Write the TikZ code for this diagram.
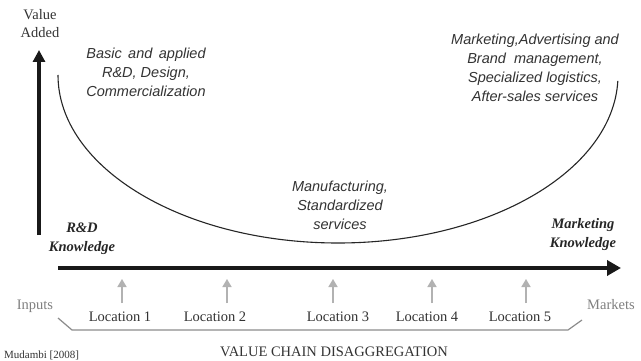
\documentclass[tikz,border=0pt]{standalone}
\usepackage{fontspec}
\setmainfont{Liberation Serif}
\newfontfamily\arialfont{Liberation Sans}
\usetikzlibrary{arrows.meta}
\begin{document}
\begin{tikzpicture}[x=1pt,y=-1pt,
  axis/.style={line width=4.5pt, draw=black!90},
  curvetext/.style={font=\arialfont\itshape\fontsize{14.5}{19}\selectfont, text=black!80, align=center, inner sep=0pt},
  knowtext/.style={font=\bfseries\itshape\fontsize{14.5}{19}\selectfont, text=black!85, align=center, inner sep=0pt},
  loc/.style={font=\fontsize{14.5}{17}\selectfont, text=black!80, inner sep=0pt},
  side/.style={font=\fontsize{14.5}{17}\selectfont, text=black!50, inner sep=0pt},
  uparrow/.style={draw=black!30, line width=1.6pt, -{Triangle[length=8pt,width=9pt]}},
  bracket/.style={draw=black!45, line width=1.2pt}
]
\useasboundingbox[fill=white] (0,0) rectangle (641,361);

% axes
\coordinate (vbot) at (39,235);
\coordinate (vtop) at (39,50);
\coordinate (hleft) at (58,268);
\coordinate (hright) at (621,268);
\draw[axis, -{Triangle[length=12pt,width=12pt]}] (vbot) -- (vtop);
\draw[axis, -{Triangle[length=14pt,width=15pt]}] (hleft) -- (hright);

% smile curve
\draw[line width=1.1pt, black!85] (58,75) arc[start angle=180, end angle=2, x radius=280, y radius=168];

% texts
\node[font=\fontsize{14.5}{18}\selectfont, text=black!80, align=center, inner sep=0pt] (va) at (40,24) {Value\\Added};
\node[curvetext] (basic) at (146,72) {Basic\, and\, applied\\R\&D, Design,\\Commercialization};
\node[curvetext] (mkt) at (535,68) {Marketing,Advertising and\\Brand\ \ management,\\Specialized logistics,\\After-sales services};
\node[curvetext] (manu) at (340,205) {Manufacturing,\\Standardized\\services};
\node[knowtext] (rdk) at (82,239) {R\&D\\Knowledge};
\node[knowtext] (mk) at (583,235) {Marketing\\Knowledge};

% locations
\foreach \i/\lx/\ax in {1/120/122, 2/215/227, 3/338/333, 4/427/432, 5/520/526}{
  \node[loc] (loc\i) at (\lx,317) {Location \i};
  \coordinate (ab\i) at (\ax,303);
  \coordinate (at\i) at (\ax,279);
  \draw[uparrow] (ab\i) -- (at\i);
}
\node[side] (inputs) at (35,306) {Inputs};
\node[side] (markets) at (611,305) {Markets};

% bracket
\coordinate (b1) at (58,318);
\coordinate (b2) at (72,330);
\coordinate (b3) at (568,330);
\coordinate (b4) at (582,320);
\draw[bracket] (b1) -- (b2) -- (b3) -- (b4);

\node[font=\fontsize{14.5}{17}\selectfont, text=black!80, inner sep=0pt] (vcd) at (334,352) {VALUE CHAIN\ DISAGGREGATION};
\node[font=\fontsize{11}{13}\selectfont, text=black!80, inner sep=0pt, anchor=base west] (src) at (4,358) {Mudambi [2008]};
\end{tikzpicture}
\end{document}
